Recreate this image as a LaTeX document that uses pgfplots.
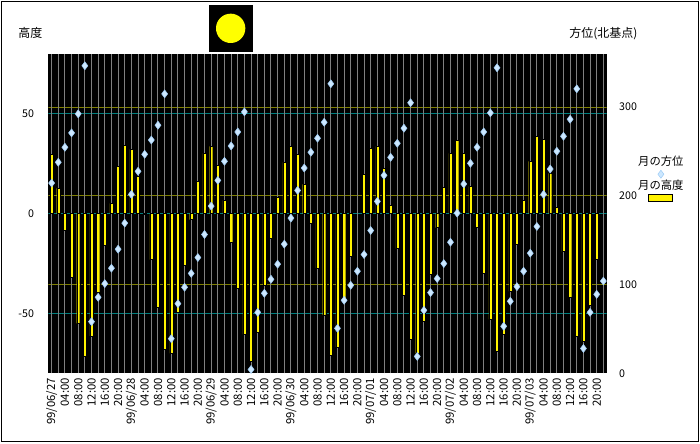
\documentclass[border=0pt]{standalone}
\usepackage{pgfplots}
\usepackage{pgfplotstable}
\pgfplotsset{compat=1.18}
\usepackage{fontspec}
\setmainfont{Noto Sans CJK JP}
\definecolor{teal2}{RGB}{0,128,128}
\definecolor{olive2}{RGB}{128,128,0}
\definecolor{gridgray}{RGB}{128,128,128}
\definecolor{paleblue}{RGB}{205,232,255}
\definecolor{diaedge}{RGB}{160,205,245}
\definecolor{moonyellow}{RGB}{255,255,0}

\pgfplotstableread{
x alt
0 29.7
1 12.7
2 -8.5
3 -31.7
4 -55.0
5 -71.3
6 -61.3
7 -39.5
8 -16.0
9 5.2
10 23.7
11 34.2
12 32.2
13 18.7
14 -0.4
15 -23.0
16 -47.0
17 -68.0
18 -70.0
19 -49.5
20 -26.0
21 -3.0
22 16.2
23 30.2
24 33.7
25 24.2
26 6.7
27 -14.2
28 -37.5
29 -60.5
30 -74.0
31 -59.2
32 -35.7
33 -12.5
34 8.2
35 25.7
36 33.7
37 29.7
38 14.7
39 -4.8
40 -27.3
41 -50.8
42 -70.8
43 -66.8
44 -43.5
45 -21.5
47 19.7
48 32.7
49 33.7
50 22.7
51 4.2
52 -17.5
53 -41.0
54 -63.0
55 -70.0
56 -54.0
57 -30.5
58 -7.0
59 13.2
60 30.2
61 36.7
62 30.2
63 13.7
64 -7.0
65 -30.0
66 -53.0
67 -69.0
68 -60.5
69 -39.0
70 -15.5
71 6.7
72 26.2
73 38.7
74 37.2
75 20.2
76 3.2
77 -19.0
78 -42.0
79 -61.5
80 -64.0
81 -46.0
82 -23.0
}\altdata

\pgfplotstableread{
x az
0 214.5
1 237.9
2 254.8
3 271.0
4 292.5
5 346.7
6 58.2
7 85.7
8 101.1
9 118.5
10 139.9
11 169.3
12 201.7
13 227.7
14 246.9
15 263.0
16 279.7
17 315.0
18 39.0
19 78.5
20 97.0
21 112.6
22 130.5
23 156.5
24 188.5
25 217.5
26 239.0
27 256.3
28 272.1
29 294.7
30 4.3
31 68.7
32 90.2
33 106.0
34 123.0
35 145.6
36 175.0
37 206.2
38 231.4
39 249.2
40 265.0
41 283.0
42 326.4
43 50.7
44 82.3
45 99.2
46 115.1
47 133.9
48 161.0
49 193.8
50 223.2
51 243.5
52 259.3
53 276.3
54 305.0
55 19.0
56 71.0
57 91.0
58 106.8
59 123.7
60 147.8
61 180.6
62 213.4
63 236.7
64 254.8
65 272.1
66 293.6
67 344.4
68 53.0
69 81.2
70 97.7
71 115.1
72 135.4
73 165.5
74 201.7
75 230.3
76 250.3
77 267.2
78 286.4
79 320.7
80 28.0
81 68.7
82 89.0
83 104.0
}\azdata

\begin{document}
\begin{tikzpicture}
\path[use as bounding box] (0pt,0pt) rectangle (525pt,332.25pt);
\draw[line width=0.75pt] (1.125pt,1.125pt) rectangle (523.875pt,331.125pt);
% moon icon
\fill[black] (156.75pt,328.5pt) rectangle (189.5pt,293.5pt);
\fill[moonyellow] (173pt,311pt) circle (11pt);
\node[font=\fontsize{9}{10}\selectfont, inner sep=0pt] at (22.7pt,307.3pt) {高度};
\node[font=\fontsize{9}{10}\selectfont, inner sep=0pt] at (452.5pt,307.3pt) {方位(北基点)};

\begin{axis}[
  at={(36.225pt,52.275pt)}, anchor=south west,
  scale only axis, width=418.8pt, height=239.5pt,
  xmin=-0.5, xmax=83.5, ymin=-80, ymax=80,
  axis background/.style={fill=black},
  axis line style={draw=none},
  major tick length=0pt,
  xtick={0,...,83},
  xticklabels={{99/06/27},{},{04:00},{},{08:00},{},{12:00},{},{16:00},{},{20:00},{},
               {99/06/28},{},{04:00},{},{08:00},{},{12:00},{},{16:00},{},{20:00},{},
               {99/06/29},{},{04:00},{},{08:00},{},{12:00},{},{16:00},{},{20:00},{},
               {99/06/30},{},{04:00},{},{08:00},{},{12:00},{},{16:00},{},{20:00},{},
               {99/07/01},{},{04:00},{},{08:00},{},{12:00},{},{16:00},{},{20:00},{},
               {99/07/02},{},{04:00},{},{08:00},{},{12:00},{},{16:00},{},{20:00},{},
               {99/07/03},{},{04:00},{},{08:00},{},{12:00},{},{16:00},{},{20:00},{}},
  xticklabel style={rotate=90, anchor=east, inner sep=0pt, font=\fontsize{8.5}{9}\selectfont},
  xticklabel shift=3.5pt,
  ytick={-50,0,50},
  yticklabel style={inner sep=0pt, anchor=east, font=\fontsize{8}{9}\selectfont},
  yticklabel shift=10.5pt,
  /pgf/number format/assume math mode=true,
]
% horizontal grid lines (left scale: teal; right scale: olive)
\draw[teal2, line width=0.75pt] (axis cs:-0.5,-50) -- (axis cs:83.5,-50);
\draw[teal2, line width=0.75pt] (axis cs:-0.5,0) -- (axis cs:83.5,0);
\draw[teal2, line width=0.75pt] (axis cs:-0.5,50) -- (axis cs:83.5,50);
\draw[olive2, line width=0.75pt] (axis cs:-0.5,-35.556) -- (axis cs:83.5,-35.556);
\draw[olive2, line width=0.75pt] (axis cs:-0.5,8.889) -- (axis cs:83.5,8.889);
\draw[olive2, line width=0.75pt] (axis cs:-0.5,53.333) -- (axis cs:83.5,53.333);
\pgfplotsinvokeforeach{0,...,83}{
  \draw[gridgray, line width=0.75pt] (axis cs:#1,-80) -- (axis cs:#1,80);
}
\addplot[ybar, bar width=0.46, bar shift=0pt, fill=yellow, draw=black, line width=0.2pt]
  table[x=x, y=alt] {\altdata};
\end{axis}

\begin{axis}[
  at={(36.225pt,52.275pt)}, anchor=south west,
  scale only axis, width=418.8pt, height=239.5pt,
  xmin=-0.5, xmax=83.5, ymin=0, ymax=360,
  hide x axis, axis y line*=right, axis line style={draw=none},
  major tick length=0pt,
  ytick={0,100,200,300},
  yticklabel style={inner sep=0pt, anchor=west, font=\fontsize{8}{9}\selectfont},
  yticklabel shift=9.2pt,
  /pgf/number format/assume math mode=true,
  legend style={at={(1.056,0.6806)}, anchor=north west, draw=none, fill=none,
    inner sep=0pt, row sep=0pt, column sep=0pt,
    nodes={inner sep=0pt, text height=7pt, text depth=2pt, font=\fontsize{8.5}{9}\selectfont}},
  legend cell align=left,
]
\addplot[only marks, mark=diamond*, mark size=3pt,
  mark options={fill=paleblue, draw=diaedge, line width=0.4pt}, forget plot]
  table[x=x, y=az] {\azdata};
\addlegendimage{empty legend}
\addlegendentry{月の方位}
\addlegendimage{legend image code/.code={
  \draw[overlay, fill=paleblue, draw=diaedge, line width=0.4pt]
    (17pt,3pt) -- (19.25pt,0pt) -- (17pt,-3pt) -- (14.75pt,0pt) -- cycle;}}
\addlegendentry{}
\addlegendimage{empty legend}
\addlegendentry{月の高度}
\addlegendimage{legend image code/.code={
  \draw[overlay, fill=yellow, draw=black, line width=0.75pt]
    (8pt,-2.6pt) rectangle (26pt,2.6pt);}}
\addlegendentry{}
\end{axis}
\end{tikzpicture}
\end{document}
